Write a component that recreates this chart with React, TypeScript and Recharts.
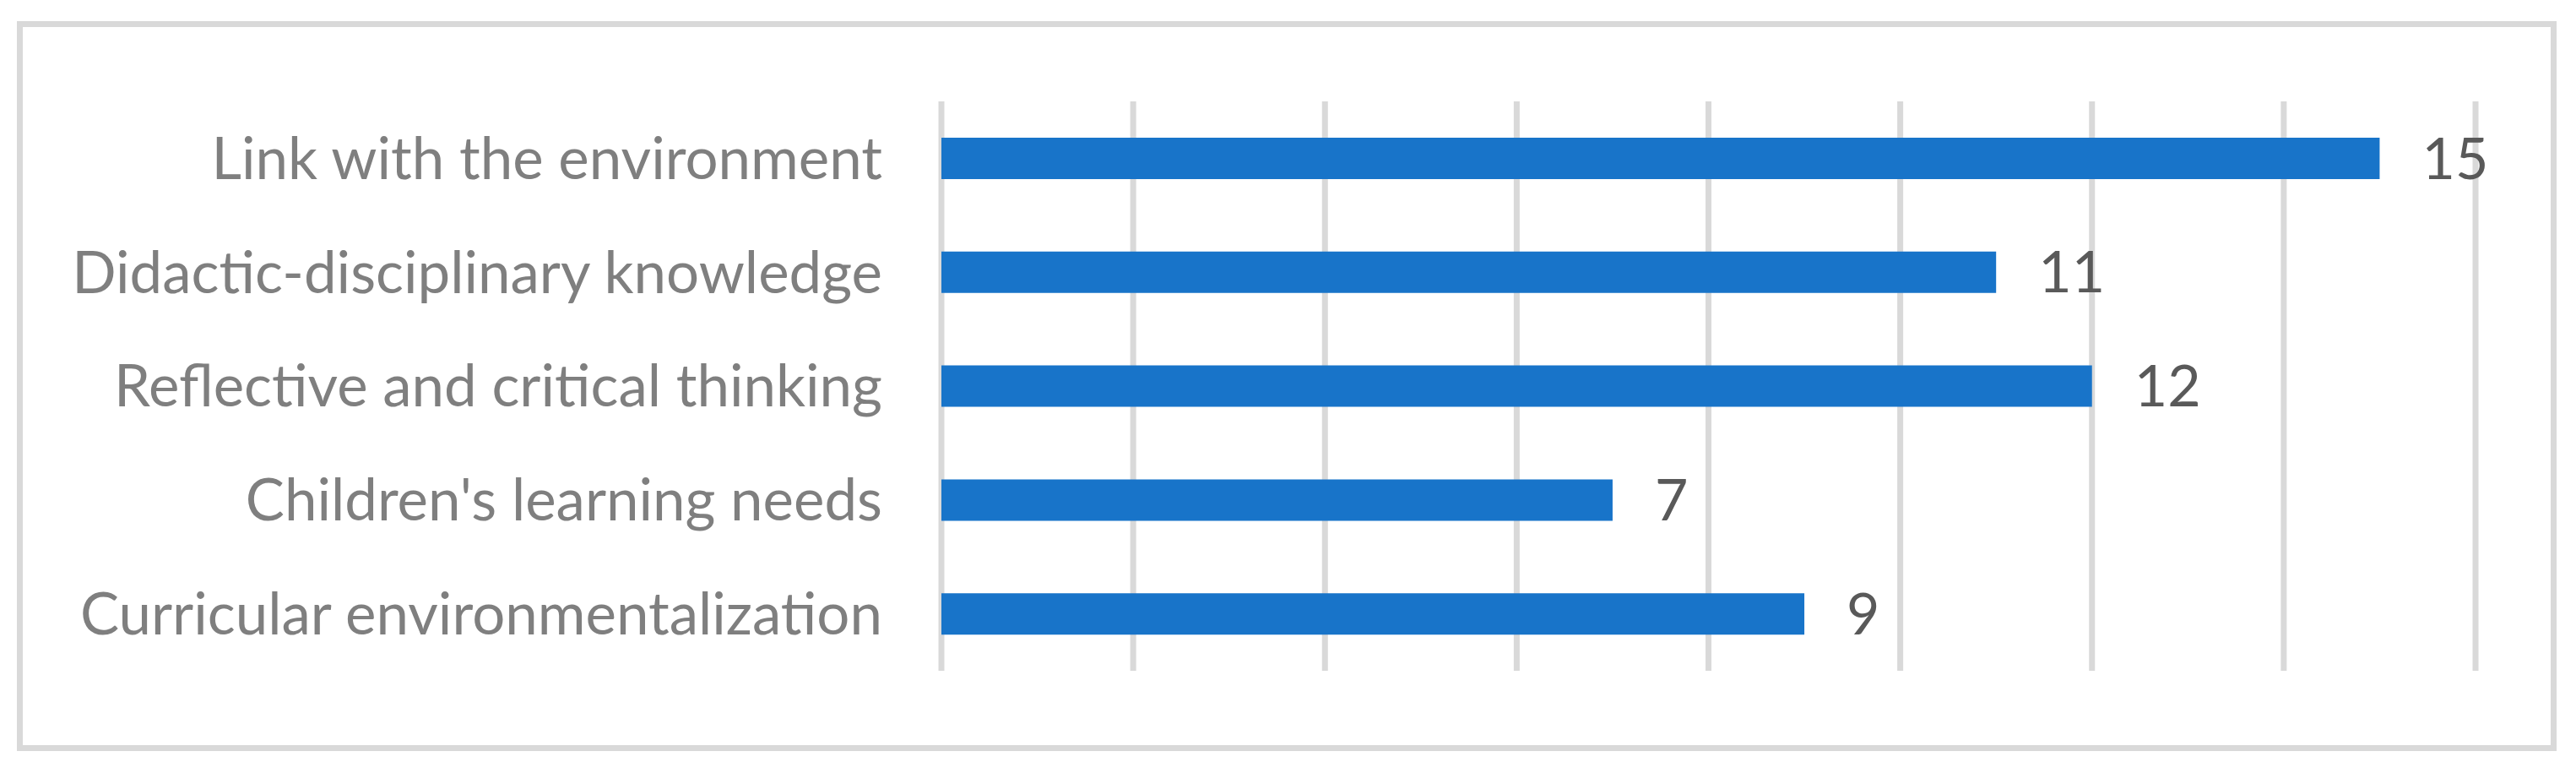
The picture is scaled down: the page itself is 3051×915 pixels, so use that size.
import React from "react";
import { BarChart, Bar, XAxis, YAxis, CartesianGrid, LabelList } from "recharts";

const categories = [
  "Link with the environment",
  "Didactic-disciplinary knowledge",
  "Reflective and critical thinking",
  "Children's learning needs",
  "Curricular environmentalization",
];
const counts = [15, 11, 12, 7, 9];
const xTicks = [0, 2, 4, 6, 8, 10, 12, 14, 16];

const chartData = categories.map((name, i) => ({ name, value: counts[i] }));

const FONT = "Lato, 'Open Sans', sans-serif";

const App: React.FC = () => {
  return (
    <div style={{ position: "absolute", left: 0, top: 0, width: 3051, height: 915, background: "#fff" }}>
      <div
        style={{
          position: "absolute",
          left: 20,
          top: 25,
          width: 3008,
          height: 864,
          border: "7px solid #d9d9d9",
          boxSizing: "border-box",
        }}
      />
      <div style={{ position: "absolute", left: 0, top: 0 }}>
        <BarChart
          width={3051}
          height={915}
          data={chartData}
          layout="vertical"
          margin={{ top: 120, right: 119, bottom: 121, left: 0 }}
          barCategoryGap={0}
        >
          <CartesianGrid horizontal={false} stroke="#d9d9d9" strokeWidth={7} />
          <XAxis type="number" domain={[0, 16]} ticks={xTicks} hide />
          <YAxis
            type="category"
            dataKey="name"
            width={1115}
            axisLine={false}
            tickLine={false}
            tickSize={0}
            tickMargin={70}
            interval={0}
            tick={{ fill: "#7f7f7f", fontSize: 69, fontFamily: FONT }}
          />
          <Bar dataKey="value" fill="#1874c9" barSize={49} isAnimationActive={false}>
            <LabelList
              dataKey="value"
              position="right"
              offset={50}
              fill="#595959"
              fontSize={68}
              fontFamily={FONT}
            />
          </Bar>
        </BarChart>
      </div>
    </div>
  );
};

export default App;
